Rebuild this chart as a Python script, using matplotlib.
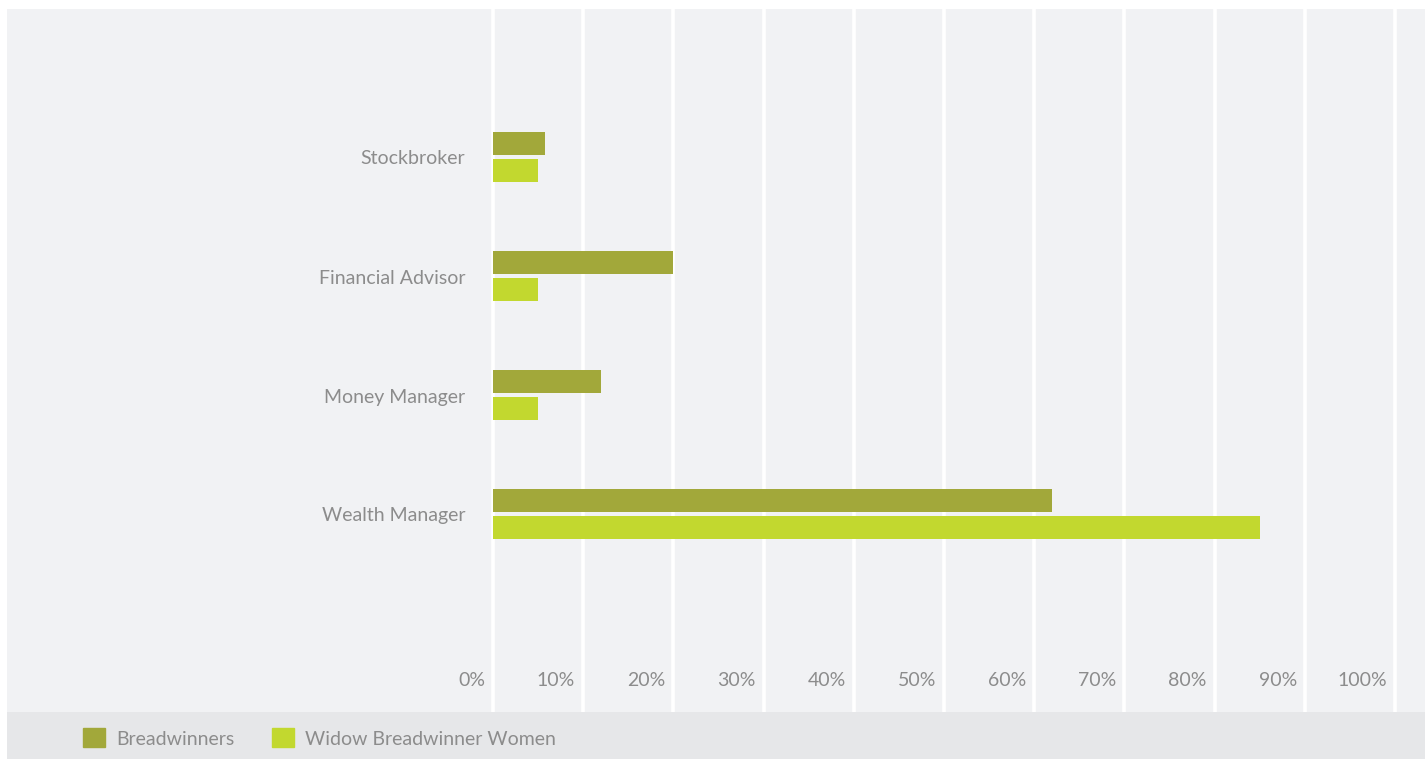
import numpy as np
import matplotlib
matplotlib.use("Agg")
import matplotlib.pyplot as plt
from matplotlib.patches import Patch

# values (percent)
categories = ["Wealth Manager", "Money Manager", "Financial Advisor", "Stockbroker"]
breadwinners = [62, 12, 20, 5.8]
widow_women = [85, 5, 5, 5]
tick_values = [0, 10, 20, 30, 40, 50, 60, 70, 80, 90, 100]
series_names = ["Breadwinners", "Widow Breadwinner Women"]

dark_green = "#a2a83a"
lime = "#c2d82f"
bg = "#f1f2f4"
band = "#e6e7e9"
txt = "#8c8c8c"

plt.rcParams['font.family'] = ['Lato', 'DejaVu Sans']

W, H = 1425, 759
fig = plt.figure(figsize=(W / 100, H / 100), dpi=100)
fig.patch.set_facecolor("white")

# main panel: x 7..1425, y 9..712 (pixels from top)
ax = fig.add_axes([7 / W, (H - 712) / H, (W - 7) / W, (712 - 9) / H])
ax.set_facecolor(bg)

# pixel layout -> data: bar group centre y = 514 - 119*v
px_per_cat = 119.0
ylo = (514 - 712) / px_per_cat
yhi = (514 - 9) / px_per_cat
ax.set_ylim(ylo, yhi)

# x: 0% at px 493, 100% at px 1395 (in axes that spans 7..1425)
px_per_pct = (1395 - 493) / 100.0
xlo = -(493 - 7) / px_per_pct
xhi = (1425 - 493) / px_per_pct
ax.set_xlim(xlo, xhi)

for t in tick_values:
    ax.axvline(t, color="white", lw=2.6, zorder=1)

y = np.arange(len(categories))
bh = 23 / px_per_cat
gap = 4 / px_per_cat
ax.barh(y + (bh + gap) / 2, breadwinners, height=bh, color=dark_green, zorder=2)
ax.barh(y - (bh + gap) / 2, widow_women, height=bh, color=lime, zorder=2)

# category labels, right aligned left of the zero line
for yi, name in zip(y, categories):
    ax.text(-28 / px_per_pct, yi - 2 / px_per_cat, name, ha="right", va="center",
            fontsize=14, color=txt)

# tick labels sit inside the panel, just left of each grid line
tick_y = (514 - 681) / px_per_cat
for t in tick_values:
    ax.text(t - 8 / px_per_pct, tick_y, f"{t}%", ha="right", va="center", fontsize=14, color=txt)

ax.set_xticks([])
ax.set_yticks([])
for s in ax.spines.values():
    s.set_visible(False)

# legend band at the bottom
lax = fig.add_axes([7 / W, 0, (W - 7) / W, (H - 712) / H])
lax.set_facecolor(band)
lax.set_xticks([])
lax.set_yticks([])
for s in lax.spines.values():
    s.set_visible(False)

handles = [Patch(color=dark_green), Patch(color=lime)]
fig.legend(handles, series_names, loc="center left", bbox_to_anchor=(83 / W, (H - 738) / H),
           ncol=2, frameon=False, fontsize=14, labelcolor=txt,
           handlelength=1.13, handleheight=1.13, handletextpad=0.57, columnspacing=1.95,
           borderaxespad=0, borderpad=0)

fig.savefig("out.png", dpi=100, facecolor=fig.get_facecolor())
